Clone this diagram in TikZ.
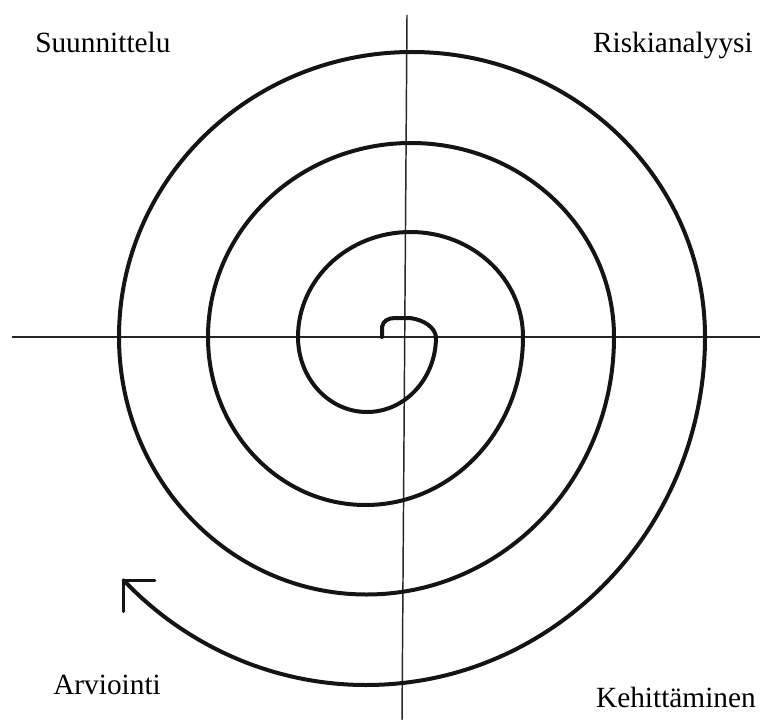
\documentclass[tikz,border=0pt]{standalone}
\usepackage{fontspec}
\setmainfont{Liberation Serif}
\begin{document}
\begin{tikzpicture}[x=0.75pt,y=0.75pt,
  axis/.style={line width=1.1pt,draw=black!85},
  spiral/.style={line width=3pt,draw=black!92,line join=round,line cap=round},
  head/.style={line width=2.4pt,draw=black!92,line cap=round},
  lbl/.style={inner sep=0pt,font=\fontsize{22pt}{26pt}\selectfont}]
\useasboundingbox (0,0) rectangle (763,-720);
% axes
\coordinate (vt) at (407,-15);
\coordinate (vb) at (402,-720);
\coordinate (hl) at (12,-337);
\coordinate (hr) at (760,-337);
\draw[axis] (vt) -- (vb);
\draw[axis] (hl) -- (hr);
% spiral
\draw[spiral] (382,-337) -- (382,-327)
  .. controls (383,-321) and (388,-318) .. (395,-318) -- (410,-318)
  .. controls (425,-320) and (435,-328) .. (436,-337)
  arc[start angle=0,end angle=-180,x radius=69,y radius=75]
  arc[start angle=180,end angle=0,x radius=112.5,y radius=105]
  arc[start angle=0,end angle=-180,x radius=157.5,y radius=168]
  arc[start angle=180,end angle=0,x radius=203,y radius=194]
  arc[start angle=0,end angle=-180,x radius=247.5,y radius=257.5]
  arc[start angle=180,end angle=0,x radius=293,y radius=285]
  arc[start angle=0,end angle=-135.6,x radius=339,y radius=348]
  coordinate (tip);
\draw[head] (tip) -- ++(31,0) coordinate (hx);
\draw[head] (tip) -- ++(0,-31) coordinate (hy);
% labels
\node[lbl,anchor=base west] (suun) at (35,-53) {Suunnittelu};
\node[lbl,anchor=base east] (risk) at (753,-53) {Riskianalyysi};
\node[lbl,anchor=base west] (arv) at (53,-694) {Arviointi};
\node[lbl,anchor=base east] (keh) at (756,-707) {Kehittäminen};
\end{tikzpicture}
\end{document}
